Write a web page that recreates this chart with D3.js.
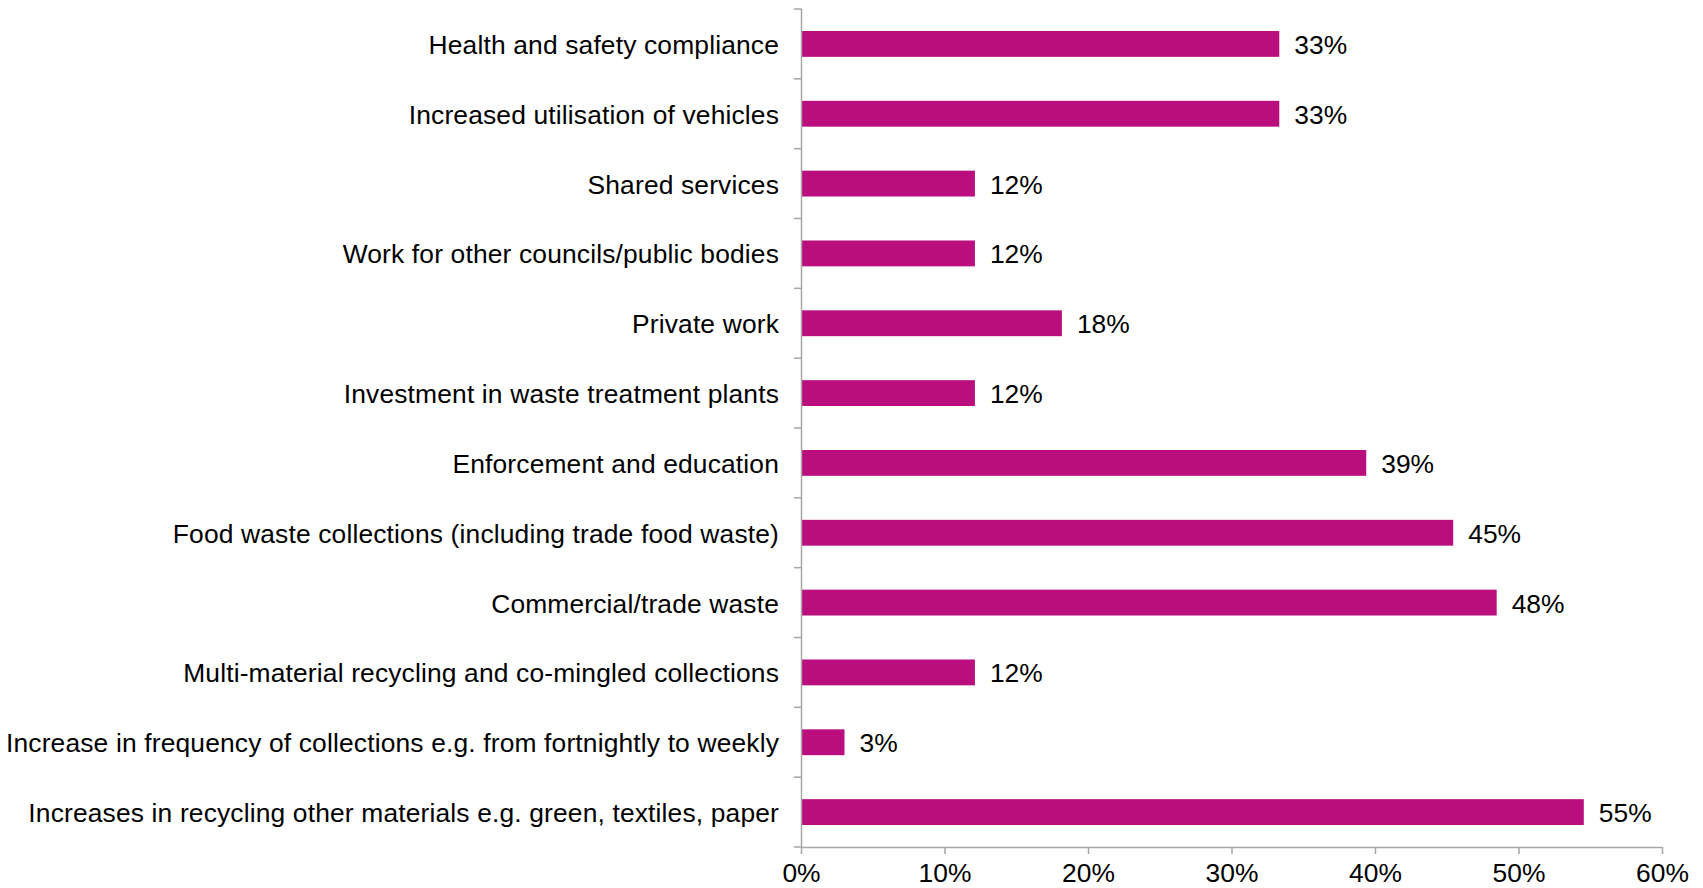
<!DOCTYPE html>
<html>
<head>
<meta charset="utf-8">
<script src="https://cdn.jsdelivr.net/npm/d3@7"></script>
<style>
  html, body { margin: 0; padding: 0; background: #fff; }
  svg text { font-family: "Liberation Sans", Arial, sans-serif; fill: #000; }
</style>
</head>
<body>
<svg id="chart" width="1703" height="888"></svg>
<script>
// Activities, top to bottom
const categories = [
  "Health and safety compliance",
  "Increased utilisation of vehicles",
  "Shared services",
  "Work for other councils/public bodies",
  "Private work",
  "Investment in waste treatment plants",
  "Enforcement and education",
  "Food waste collections (including trade food waste)",
  "Commercial/trade waste",
  "Multi-material recycling and co-mingled collections",
  "Increase in frequency of collections e.g. from fortnightly to weekly",
  "Increases in recycling other materials e.g. green, textiles, paper"
];
// Share of respondents (%)
const values = [33.33, 33.33, 12.12, 12.12, 18.18, 12.12, 39.39, 45.45, 48.48, 12.12, 3.03, 54.55];
// Axis ticks (%)
const xTicks = [0, 10, 20, 30, 40, 50, 60];

const margin = { top: 9, right: 41, bottom: 41, left: 801 };
const width = 1703, height = 888;
const fontSize = 26.4;
const svg = d3.select("#chart");
const g = svg.append("g").attr("transform", `translate(${margin.left},${margin.top})`);
const w = width - margin.left - margin.right;
const h = height - margin.top - margin.bottom;

const x = d3.scaleLinear().domain([0, 60]).range([0, w]);
const y = d3.scaleBand().domain(categories).range([0, h]).paddingInner(0.63).paddingOuter(0.315);
const yOuter = d3.scaleBand().domain(categories).range([0, h]);

const axisColor = "#a6a6a6";

// Bars
g.selectAll("rect.bar")
  .data(categories)
  .enter().append("rect")
  .attr("class", "bar")
  .attr("x", x(0))
  .attr("y", d => y(d))
  .attr("width", (d, i) => x(values[i]) - x(0))
  .attr("height", y.bandwidth())
  .attr("fill", "#BA0E7E");

// Value labels
g.selectAll("text.val")
  .data(categories)
  .enter().append("text")
  .attr("class", "val")
  .attr("x", (d, i) => x(values[i]) + 15)
  .attr("y", d => y(d) + y.bandwidth() / 2)
  .attr("dy", "0.38em")
  .attr("font-size", fontSize)
  .text((d, i) => Math.round(values[i]) + "%");

// Category axis: vertical line with ticks between categories
g.append("line")
  .attr("x1", 0.5).attr("x2", 0.5)
  .attr("y1", 0).attr("y2", h)
  .attr("stroke", axisColor).attr("stroke-width", 1.5);
g.selectAll("line.ytick")
  .data(categories.concat(["__end"]))
  .enter().append("line")
  .attr("class", "ytick")
  .attr("x1", -7).attr("x2", 0.5)
  .attr("y1", (d, i) => i * yOuter.step())
  .attr("y2", (d, i) => i * yOuter.step())
  .attr("stroke", axisColor).attr("stroke-width", 1.5);

// Category labels
g.selectAll("text.cat")
  .data(categories)
  .enter().append("text")
  .attr("class", "cat")
  .attr("x", -22)
  .attr("y", d => y(d) + y.bandwidth() / 2)
  .attr("dy", "0.38em")
  .attr("text-anchor", "end")
  .attr("font-size", fontSize)
  .style("letter-spacing", "0.15px")
  .text(d => d);

// Value axis
const xAxis = d3.axisBottom(x)
  .tickValues(xTicks)
  .tickFormat(d => d + "%")
  .tickSize(7)
  .tickPadding(9);
const xg = g.append("g")
  .attr("transform", `translate(0,${h})`)
  .call(xAxis);
xg.select(".domain").attr("stroke", axisColor).attr("stroke-width", 1.5).attr("d", `M0,0.5H${w}`);
xg.selectAll(".tick line").attr("stroke", axisColor).attr("stroke-width", 1.5);
xg.selectAll(".tick text")
  .attr("font-size", fontSize)
  .attr("fill", "#000")
  .style("font-family", "'Liberation Sans', Arial, sans-serif");
</script>
</body>
</html>
